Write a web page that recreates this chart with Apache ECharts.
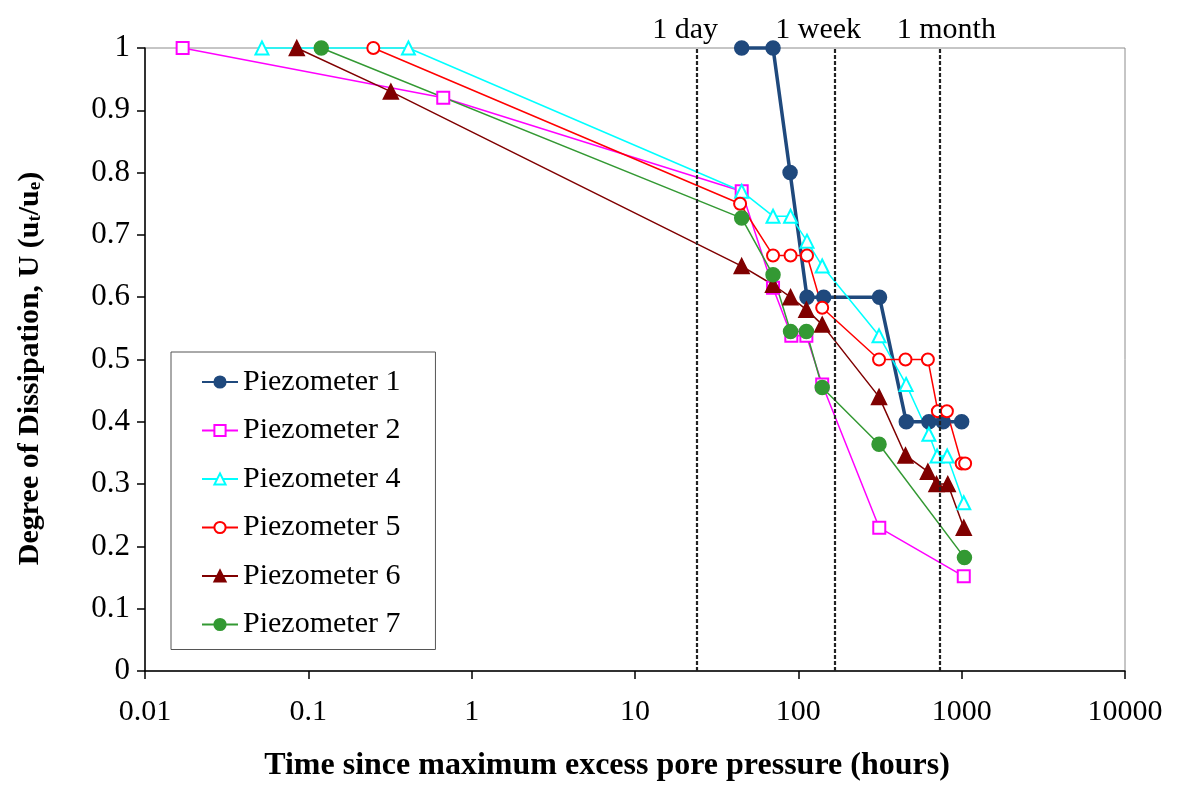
<!DOCTYPE html>
<html>
<head>
<meta charset="utf-8">
<script src="https://cdn.jsdelivr.net/npm/echarts@6/dist/echarts.min.js"></script>
<style>
  html, body { margin: 0; padding: 0; background: #fff; }
  #chart { width: 1177px; height: 787px; }
</style>
</head>
<body>
<div id="chart"></div>
<script>
// Time since maximum excess pore pressure (hours) and degree of dissipation for each piezometer
var p1Time = [45, 70, 89, 113, 143, 314, 458, 630, 770, 1000];
var p1U    = [1, 1, 0.8, 0.6, 0.6, 0.6, 0.4, 0.4, 0.4, 0.4];

var p2Time = [0.017, 0.67, 45, 70, 90.6, 112, 140, 313, 1030];
var p2U    = [1, 0.92, 0.77, 0.615, 0.538, 0.538, 0.46, 0.23, 0.152];

var p4Time = [0.052, 0.41, 45, 70, 89.6, 113, 140, 312, 457, 630, 707, 815, 1030];
var p4U    = [1, 1, 0.77, 0.73, 0.73, 0.69, 0.65, 0.538, 0.46, 0.38, 0.345, 0.345, 0.27];

var p5Time = [0.25, 44, 70, 89.6, 113, 140, 312, 453, 621, 715, 812, 1000, 1050];
var p5U    = [1, 0.75, 0.667, 0.667, 0.667, 0.583, 0.5, 0.5, 0.5, 0.417, 0.417, 0.333, 0.333];

var p6Time = [0.085, 0.32, 45, 70, 89.6, 112, 140, 312, 453, 621, 701, 822, 1030];
var p6U    = [1, 0.93, 0.65, 0.62, 0.6, 0.58, 0.556, 0.44, 0.346, 0.32, 0.3, 0.3, 0.23];

var p7Time = [0.12, 45, 70, 89.6, 112, 140, 312, 1040];
var p7U    = [1, 0.727, 0.636, 0.545, 0.545, 0.455, 0.364, 0.182];

// Reference durations (hours)
var refNames = ['1 day', '1 week', '1 month'];
var refHours = [24, 168, 730];

var xTickLabels = ['0.01', '0.1', '1', '10', '100', '1000', '10000'];
var yTickLabels = ['0', '0.1', '0.2', '0.3', '0.4', '0.5', '0.6', '0.7', '0.8', '0.9', '1'];

function zip(xs, ys) {
  return xs.map(function (x, i) { return [x, ys[i]]; });
}

var serif = 'Liberation Serif';
var chart = echarts.init(document.getElementById('chart'), null, { renderer: 'canvas' });

function lineSeries(name, xs, ys, color, symbol, size, width) {
  return {
    name: name,
    type: 'line',
    data: zip(xs, ys),
    symbol: symbol,
    symbolSize: size,
    clip: false,
    lineStyle: { color: color, width: width },
    itemStyle: { color: color, borderColor: color, borderWidth: 1.5 },
    emphasis: { disabled: true }
  };
}

var labelOffsets = [[-12, 3], [-17, 3], [7, 3]];

var series = [
  lineSeries('Piezometer 1', p1Time, p1U, '#1F497D', 'circle', 14, 3.5),
  lineSeries('Piezometer 2', p2Time, p2U, '#FF00FF', 'emptyRect', 12, 1.5),
  lineSeries('Piezometer 4', p4Time, p4U, '#00FFFF', 'emptyTriangle', 13, 1.5),
  lineSeries('Piezometer 5', p5Time, p5U, '#FF0000', 'emptyCircle', 12, 1.5),
  lineSeries('Piezometer 6', p6Time, p6U, '#800000', 'triangle', 15, 1.5),
  lineSeries('Piezometer 7', p7Time, p7U, '#339933', 'circle', 14, 1.5)
];

// dashed reference lines for a day, a week and a month
series[0].markLine = {
  silent: true,
  symbol: ['none', 'none'],
  animation: false,
  lineStyle: { color: '#222', type: [4, 2], width: 2.2 },
  label: { show: false },
  data: refHours.map(function (h, i) {
    return {
      xAxis: h,
      label: {
        show: true,
        formatter: refNames[i],
        position: 'end',
        distance: 6,
        offset: labelOffsets[i],
        color: '#000',
        fontFamily: serif,
        fontSize: 30
      }
    };
  })
};

chart.setOption({
  animation: false,
  backgroundColor: '#fff',
  grid: {
    left: 145, right: 52, top: 48, bottom: 102,
    show: true, borderColor: '#8c8c8c', borderWidth: 1, backgroundColor: 'transparent'
  },
  legend: {
    orient: 'vertical',
    left: 171,
    top: 352,
    padding: [15, 35, 10, 30],
    itemGap: 18.5,
    itemWidth: 36,
    itemHeight: 14,
    borderColor: '#555',
    borderWidth: 1,
    backgroundColor: '#fff',
    textStyle: { fontFamily: serif, fontSize: 30, color: '#000' },
    data: series.map(function (s) { return s.name; })
  },
  xAxis: {
    type: 'log',
    logBase: 10,
    min: 0.01,
    max: 10000,
    name: 'Time since maximum excess pore pressure (hours)',
    nameLocation: 'middle',
    nameGap: 79,
    nameTextStyle: {
      fontFamily: serif, fontSize: 32, fontWeight: 'bold', color: '#000',
      padding: [0, 56, 0, 0]
    },
    axisLine: { show: true, onZero: false, lineStyle: { color: '#000', width: 1.5 } },
    axisTick: { show: true, length: 8, lineStyle: { color: '#000', width: 1.5 } },
    minorTick: { show: false },
    splitLine: { show: false },
    axisLabel: {
      margin: 26,
      fontFamily: serif,
      fontSize: 30,
      color: '#000',
      formatter: function (v, i) { return xTickLabels[i]; }
    }
  },
  yAxis: {
    type: 'value',
    min: 0,
    max: 1,
    interval: 0.1,
    name: '{b|Degree of Dissipation, U (u}{s|t}{b|/u}{s|e}{b|)}',
    nameLocation: 'middle',
    nameGap: 100,
    nameRotate: 90,
    nameTextStyle: {
      padding: [0, 18, 0, 0],
      rich: {
        b: { fontFamily: serif, fontSize: 30, fontWeight: 'bold', color: '#000', verticalAlign: 'bottom', lineHeight: 36 },
        s: { fontFamily: serif, fontSize: 19, fontWeight: 'bold', color: '#000', verticalAlign: 'bottom', lineHeight: 28 }
      }
    },
    axisLine: { show: true, lineStyle: { color: '#000', width: 1.5 } },
    axisTick: { show: true, length: 8, lineStyle: { color: '#000', width: 1.5 } },
    splitLine: { show: false },
    axisLabel: {
      margin: 15,
      fontFamily: serif,
      fontSize: 31,
      color: '#000',
      formatter: function (v, i) { return yTickLabels[i]; }
    }
  },
  series: series
});
</script>
</body>
</html>
